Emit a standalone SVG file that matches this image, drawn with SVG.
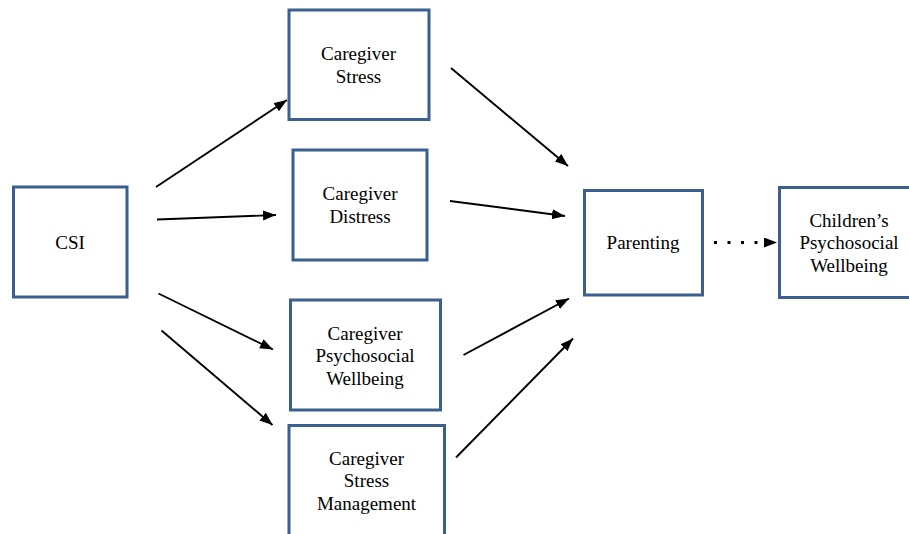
<svg xmlns="http://www.w3.org/2000/svg" width="909" height="534" viewBox="0 0 909 534">
<style>
.box{fill:#ffffff;stroke:#3B5F8E;stroke-width:3}
.lbl{font-family:'Liberation Serif','DejaVu Serif',serif;font-size:19px;fill:#000;text-anchor:middle}
.edge{stroke:#000;stroke-width:1.9;fill:none;marker-end:url(#ah)}
.dot{stroke:#000;stroke-width:3;fill:none;stroke-dasharray:3 10.5;marker-end:url(#ah2)}
</style>
<defs>
<marker id="ah" markerUnits="userSpaceOnUse" markerWidth="14" markerHeight="12" refX="13" refY="5" orient="auto">
<path d="M0,0 L13,5 L0,10 z" fill="#000"/>
</marker>
<marker id="ah2" markerUnits="userSpaceOnUse" markerWidth="14" markerHeight="12" refX="13" refY="5" orient="auto">
<path d="M0,0 L13,5 L0,10 z" fill="#000"/>
</marker>
</defs>
<rect width="909" height="534" fill="#ffffff"/>
<g id="connectors">
<line class="edge" x1="156" y1="187" x2="287" y2="100"/>
<line class="edge" x1="157" y1="219.5" x2="276" y2="215"/>
<line class="edge" x1="158.5" y1="293.5" x2="273" y2="349.5"/>
<line class="edge" x1="161.5" y1="330.5" x2="272.5" y2="425"/>
<line class="edge" x1="451" y1="68" x2="568" y2="166"/>
<line class="edge" x1="450" y1="201" x2="565" y2="216"/>
<line class="edge" x1="463.5" y1="355" x2="569" y2="298.5"/>
<line class="edge" x1="456" y1="457.5" x2="573" y2="338.5"/>
<line class="dot" x1="714" y1="242.5" x2="777" y2="242.5"/>
</g>
<g id="csi">
<rect class="box" x="13.5" y="187" width="113.5" height="110"/>
<text class="lbl" x="70" y="249">CSI</text>
</g>
<g id="caregiver-stress">
<rect class="box" x="289" y="10" width="140" height="109.5"/>
<text class="lbl" x="358.5" y="60">Caregiver</text>
<text class="lbl" x="358.5" y="82.5">Stress</text>
</g>
<g id="caregiver-distress">
<rect class="box" x="293" y="150" width="134" height="110"/>
<text class="lbl" x="360" y="200">Caregiver</text>
<text class="lbl" x="360" y="222.5">Distress</text>
</g>
<g id="caregiver-psychosocial">
<rect class="box" x="290.5" y="300" width="150" height="110"/>
<text class="lbl" x="365" y="339.5">Caregiver</text>
<text class="lbl" x="365" y="362">Psychosocial</text>
<text class="lbl" x="365" y="384.5">Wellbeing</text>
</g>
<g id="caregiver-stress-management">
<rect class="box" x="289" y="425.5" width="155.5" height="112"/>
<text class="lbl" x="366.5" y="465">Caregiver</text>
<text class="lbl" x="366.5" y="487">Stress</text>
<text class="lbl" x="366.5" y="509.5">Management</text>
</g>
<g id="parenting">
<rect class="box" x="584.5" y="190.5" width="118" height="104.5"/>
<text class="lbl" x="643" y="249">Parenting</text>
</g>
<g id="childrens-wellbeing">
<rect class="box" x="779.5" y="187.5" width="135" height="110"/>
<text class="lbl" x="849" y="226.5">Children’s</text>
<text class="lbl" x="849" y="249">Psychosocial</text>
<text class="lbl" x="849" y="271.5">Wellbeing</text>
</g>
</svg>
